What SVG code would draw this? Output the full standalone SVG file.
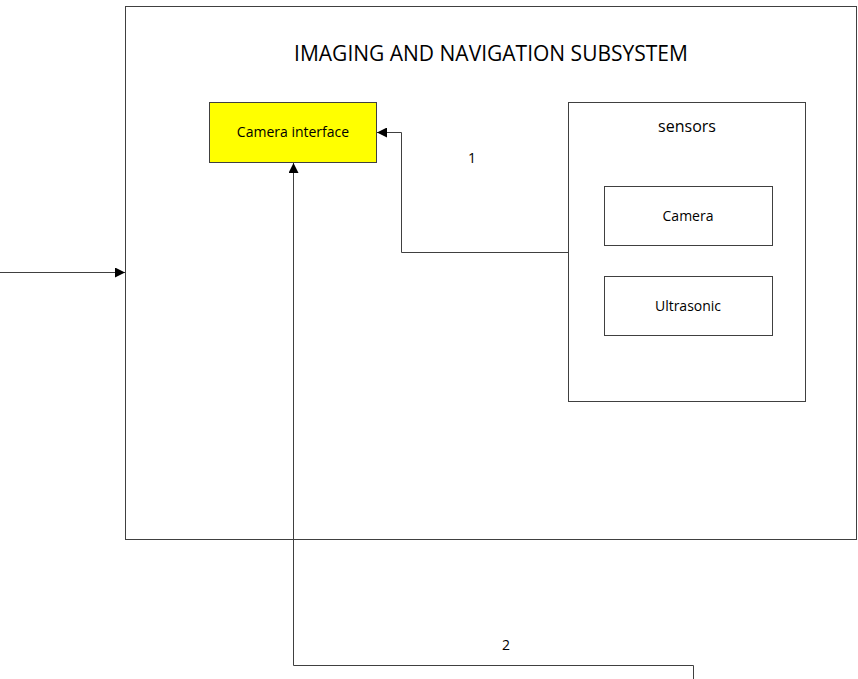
<svg xmlns="http://www.w3.org/2000/svg" width="858" height="679" viewBox="0 0 858 679">
<style>
.box{fill:#fff;stroke:#404040;stroke-width:1}
.t{font-family:"Open Sans","Noto Sans",sans-serif;fill:#000;text-anchor:middle}
.c{fill:none;stroke:#404040;stroke-width:1}
</style>
<defs>
<marker id="ah" viewBox="0 0 10 10" refX="10" refY="5" markerWidth="10" markerHeight="10" markerUnits="userSpaceOnUse" orient="auto">
<path d="M0,0 L10,5 L0,10 z" fill="#000"/>
</marker>
</defs>
<rect width="858" height="679" fill="#fff"/>
<g id="subsystem">
<rect class="box" x="125.5" y="6.5" width="731" height="533"/>
<text class="t" x="491" y="61" font-size="21">IMAGING AND NAVIGATION SUBSYSTEM</text>
</g>
<g id="camera-interface">
<rect x="209.5" y="102.5" width="167" height="60" fill="#ffff00" stroke="#404040"/>
<text class="t" x="293" y="137" font-size="14">Camera interface</text>
</g>
<g id="sensors">
<rect class="box" x="568.5" y="102.5" width="237" height="299"/>
<text class="t" x="687" y="132" font-size="16">sensors</text>
</g>
<g id="camera">
<rect class="box" x="604.5" y="186.5" width="168" height="59"/>
<text class="t" x="688" y="221" font-size="14">Camera</text>
</g>
<g id="ultrasonic">
<rect class="box" x="604.5" y="276.5" width="168" height="59"/>
<text class="t" x="688" y="311" font-size="14">Ultrasonic</text>
</g>
<g id="connectors">
<polyline class="c" points="568,252.5 401.5,252.5 401.5,132.5 377,132.5" marker-end="url(#ah)"/>
<polyline class="c" points="693.5,679 693.5,665.5 293.5,665.5 293.5,163" marker-end="url(#ah)"/>
<polyline class="c" points="0,272.5 125,272.5" marker-end="url(#ah)"/>
<text class="t" x="472" y="163" font-size="14">1</text>
<text class="t" x="506" y="650" font-size="14">2</text>
</g>
</svg>
